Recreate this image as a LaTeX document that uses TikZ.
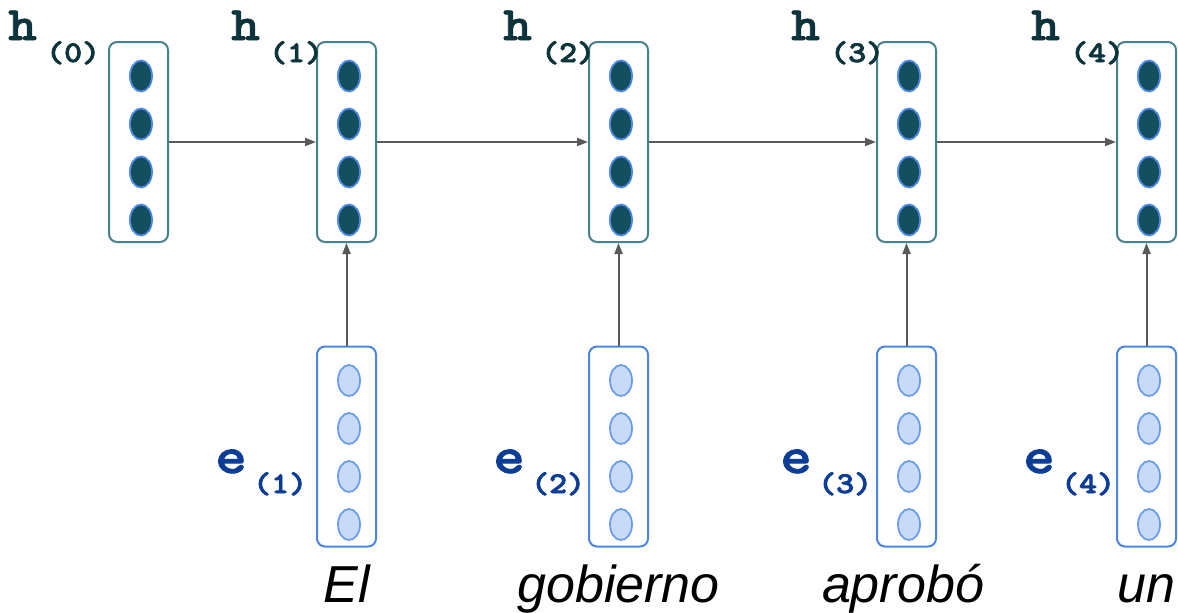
\documentclass[tikz,border=0pt]{standalone}
\usepackage{fontspec}
\usetikzlibrary{arrows.meta,shapes.geometric}
\newfontfamily\wordfont{Liberation Sans}
\newfontfamily\codefont{lmmonolt10-bold.otf}[FakeStretch=1.14,FakeBold=1.5]
\newfontfamily\subcodefont{lmmonolt10-bold.otf}[FakeStretch=1.14,FakeBold=2.5]
\definecolor{hborder}{HTML}{45818E}
\definecolor{hfill}{HTML}{134F5C}
\definecolor{cellline}{HTML}{4A86E8}
\definecolor{eborder}{HTML}{4A86E8}
\definecolor{efill}{HTML}{C9DAF8}
\definecolor{ecell}{HTML}{6D9EEB}
\definecolor{htext}{HTML}{0C343D}
\definecolor{etext}{HTML}{0B3D96}
\definecolor{arrowgrey}{HTML}{595959}
\tikzset{
  vecbox/.style={draw, line width=2pt, rounded corners=8pt, minimum width=59pt,
    minimum height=200pt, inner sep=0pt},
  hbox/.style={vecbox, draw=hborder},
  ebox/.style={vecbox, draw=eborder},
  hcell/.style={ellipse, draw=cellline, fill=hfill, line width=1.8pt,
    minimum width=22pt, minimum height=31pt, inner sep=0pt},
  ecell/.style={ellipse, draw=ecell, fill=efill, line width=1.8pt,
    minimum width=22pt, minimum height=31pt, inner sep=0pt},
  hlab/.style={anchor=base west, inner sep=0pt, text=htext,
    font=\codefont\fontsize{48}{48}\selectfont},
  hsub/.style={anchor=base west, inner sep=0pt, text=htext,
    font=\subcodefont\fontsize{30}{30}\selectfont},
  elab/.style={anchor=base west, inner sep=0pt, text=etext,
    font=\codefont\fontsize{53}{53}\selectfont},
  esub/.style={anchor=base west, inner sep=0pt, text=etext,
    font=\subcodefont\fontsize{30}{30}\selectfont},
  word/.style={anchor=base, inner sep=0pt,
    font=\wordfont\fontsize{52}{52}\selectfont\itshape},
  flow/.style={draw=arrowgrey, line width=2pt,
    -{Triangle[length=11pt,width=8pt]}, arrowgrey}
}
\begin{document}
\begin{tikzpicture}[x=1pt, y=-1pt]
\useasboundingbox (0,0) rectangle (1178,613);

% hidden state vectors
\foreach \i/\x in {0/138.5, 1/346.5, 2/618.5, 3/906.5, 4/1146.5} {
  \node[hbox] (h\i) at (\x,142) {};
  \foreach \j/\dy in {1/-66, 2/-18, 3/30, 4/78}
    \node[hcell] (h\i c\j) at (\x+2.5,142+\dy) {};
}

% word embedding vectors
\foreach \i/\x in {1/346.5, 2/618.5, 3/906.5, 4/1146.5} {
  \node[ebox] (e\i) at (\x,446.5) {};
  \foreach \j/\dy in {1/-66, 2/-18, 3/30, 4/78}
    \node[ecell] (e\i c\j) at (\x+2.5,446.5+\dy) {};
}

% state labels
\node[hlab] (hl0) at (8,40) {h};
\node[hsub] (hs0) at (46,62) {(0)};
\node[hlab] (hl1) at (231,40) {h};
\node[hsub] (hs1) at (269,62) {(1)};
\node[hlab] (hl2) at (503,40) {h};
\node[hsub] (hs2) at (541,62) {(2)};
\node[hlab] (hl3) at (791,40) {h};
\node[hsub] (hs3) at (830,62) {(3)};
\node[hlab] (hl4) at (1031,40) {h};
\node[hsub] (hs4) at (1070,62) {(4)};

% embedding labels
\node[elab] (el1) at (215,473) {e};
\node[esub] (es1) at (253,493) {(1)};
\node[elab] (el2) at (493,473) {e};
\node[esub] (es2) at (531,493) {(2)};
\node[elab] (el3) at (780,473) {e};
\node[esub] (es3) at (818,493) {(3)};
\node[elab] (el4) at (1023,473) {e};
\node[esub] (es4) at (1061,493) {(4)};

% input words
\node[word] (w1) at (346.5,602) {El};
\node[word] (w2) at (618.5,602) {gobierno};
\node[word] (w3) at (903,602) {aprobó};
\node[word] (w4) at (1146.5,602) {un};

% recurrent connections
\draw[flow] (h0.east) -- (h1.west);
\draw[flow] (h1.east) -- (h2.west);
\draw[flow] (h2.east) -- (h3.west);
\draw[flow] (h3.east) -- (h4.west);

% input connections
\foreach \i in {1,2,3,4}
  \draw[flow] (e\i.north) -- (h\i.south);
\end{tikzpicture}
\end{document}
